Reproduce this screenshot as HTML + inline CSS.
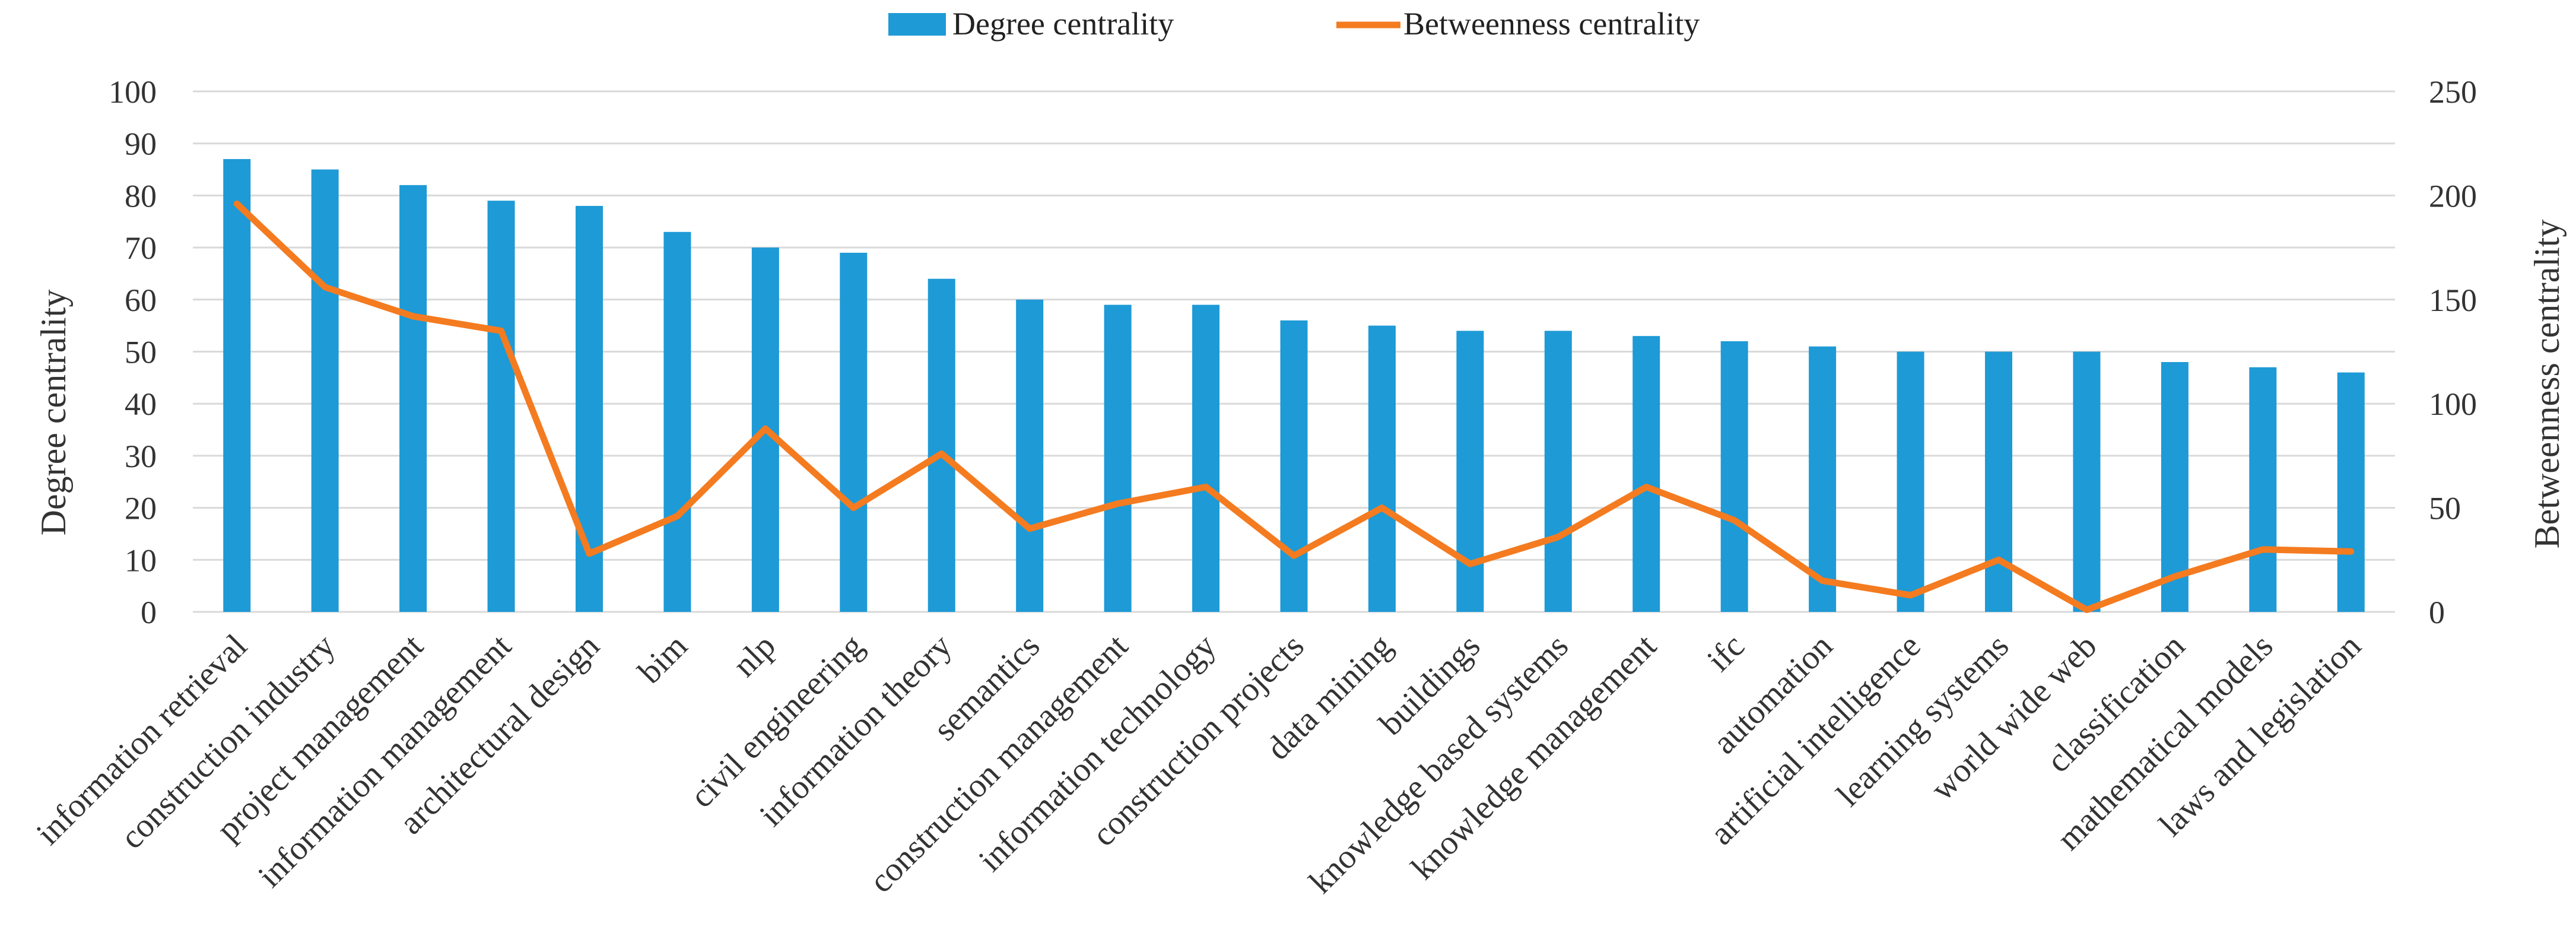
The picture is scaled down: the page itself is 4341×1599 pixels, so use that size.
<!DOCTYPE html>
<html><head><meta charset="utf-8"><style>
html,body{margin:0;padding:0;background:#fff;}
svg{display:block;font-family:"Liberation Serif",serif;}
</style></head><body>
<svg id="chart" width="4341" height="1599" viewBox="0 0 4341 1599" xmlns="http://www.w3.org/2000/svg">
<g id="legend">
  <rect x="1497" y="22" width="97" height="38" fill="#1E9AD6"/>
  <text x="1605" y="58" font-size="54" fill="#222">Degree centrality</text>
  <line x1="2252" y1="42" x2="2360" y2="42" stroke="#F47B20" stroke-width="11"/>
  <text x="2365" y="58" font-size="54" fill="#222">Betweenness centrality</text>
</g>
<g id="grid"></g><g id="bars"></g><g id="line"></g><g id="labels"></g>
<text transform="translate(110,695) rotate(-90)" text-anchor="middle" font-size="60" fill="#333">Degree centrality</text>
<text transform="translate(4312,647) rotate(-90)" text-anchor="middle" font-size="60" fill="#333">Betweenness centrality</text>
</svg>
<script>
const categories = ["information retrieval","construction industry","project management","information management","architectural design","bim","nlp","civil engineering","information theory","semantics","construction management","information technology","construction projects","data mining","buildings","knowledge based systems","knowledge management","ifc","automation","artificial intelligence","learning systems","world wide web","classification","mathematical models","laws and legislation"];
const degreeValues = [87,85,82,79,78,73,70,69,64,60,59,59,56,55,54,54,53,52,51,50,50,50,48,47,46];
const betweennessValues = [196,156,142,135,28,46,88,50,76,40,52,60,27,50,23,36,60,44,15,8,25,1,17,30,29];
const leftTicks = [0,10,20,30,40,50,60,70,80,90,100];
const rightTicks = [0,50,100,150,200,250];

const NS = "http://www.w3.org/2000/svg";
const X0 = 325, X1 = 4036, Y0 = 1031, Y1 = 154;
const band = (X1 - X0) / categories.length;
const xC = i => X0 + band * (i + 0.5);
const yL = v => Y0 - (v / 100) * (Y0 - Y1);
const yR = v => Y0 - (v / 250) * (Y0 - Y1);
function mk(tag, attrs, parent) {
  const e = document.createElementNS(NS, tag);
  for (const k in attrs) e.setAttribute(k, attrs[k]);
  parent.appendChild(e);
  return e;
}
const grid = document.getElementById('grid');
leftTicks.forEach(t => {
  const l = mk('line', {x1: X0, x2: X1, y1: yL(t), y2: yL(t), stroke: '#d9d9d9', 'stroke-width': 3}, grid);
  
  
  const tx = mk('text', {x: 264, y: yL(t) + 19, 'text-anchor': 'end', 'font-size': 54, fill: '#333'}, grid);
  tx.textContent = t;
  
  
});
rightTicks.forEach(t => {
  const tx = mk('text', {x: 4093, y: yR(t) + 19, 'text-anchor': 'start', 'font-size': 54, fill: '#333'}, grid);
  tx.textContent = t;
  
  
});
const bars = document.getElementById('bars');
const bw = 46;
degreeValues.forEach((v, i) => {
  const r = mk('rect', {x: xC(i) - bw / 2, y: yL(v), width: bw, height: Y0 - yL(v), fill: '#1E9AD6'}, bars);
  
  
});
const lg = document.getElementById('line');
const pts = betweennessValues.map((v, i) => xC(i).toFixed(1) + ',' + yR(v).toFixed(1)).join(' ');
const pl = mk('polyline', {points: pts, fill: 'none', stroke: '#F47B20', 'stroke-width': 11, 'stroke-linejoin': 'round', 'stroke-linecap': 'round'}, lg);


const labels = document.getElementById('labels');
categories.forEach((c, i) => {
  const x = xC(i) + 20, y = 1092;
  const t = mk('text', {x: x, y: y, 'text-anchor': 'end', 'font-size': 57, fill: '#333', transform: 'rotate(-45 ' + x + ' ' + y + ')'}, labels);
  t.textContent = c;
  
  
});
</script>
</body></html>
